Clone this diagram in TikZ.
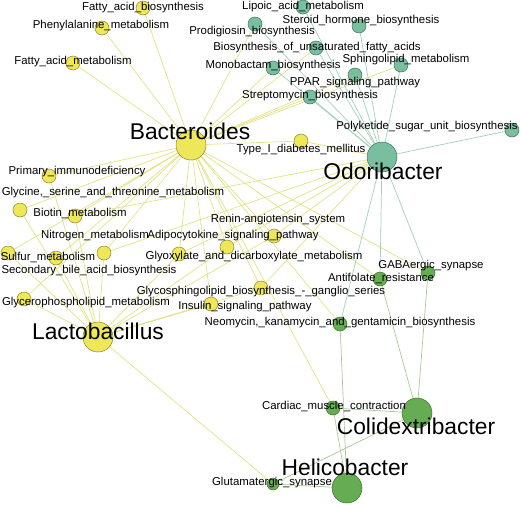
\documentclass[tikz,border=0pt]{standalone}
\usepackage{fontspec}
\setmainfont{Liberation Sans}
\usetikzlibrary{positioning}
\pgfdeclarelayer{edges}
\pgfsetlayers{edges,main}

\definecolor{bacyellow}{RGB}{238,231,90}
\definecolor{bacyellowdark}{RGB}{140,132,40}
\definecolor{odoteal}{RGB}{122,190,160}
\definecolor{odotealdark}{RGB}{60,115,90}
\definecolor{colgreen}{RGB}{102,172,82}
\definecolor{colgreendark}{RGB}{55,115,45}
\definecolor{yedgecol}{RGB}{226,226,130}
\definecolor{tedgecol}{RGB}{160,208,186}
\definecolor{gedgecol}{RGB}{165,203,145}

\tikzset{
  pnode/.style={circle, line width=0.5pt, minimum size=14pt, inner sep=0pt},
  ynode/.style={pnode, fill=bacyellow, draw=bacyellowdark},
  tnode/.style={pnode, fill=odoteal, draw=odotealdark},
  gnode/.style={pnode, fill=colgreen, draw=colgreendark},
  genus/.style={minimum size=30pt},
  plabel/.style={font=\fontsize{11.4}{12}\selectfont, inner sep=0pt},
  glabel/.style={font=\fontsize{22.8}{24}\selectfont, inner sep=0pt},
  yedge/.style={draw=yedgecol, line width=0.7pt},
  tedge/.style={draw=tedgecol, line width=0.7pt},
  gedge/.style={draw=gedgecol, line width=0.7pt}
}

\begin{document}
\begin{tikzpicture}[x=1pt, y=-1pt]
\useasboundingbox (0,0) rectangle (520,504);

% pathway nodes of Bacteroides and Lactobacillus
\node[ynode] (fab) at (143,8) {};
\node[ynode] (phe) at (102,28) {};
\node[ynode] (fam) at (73,63) {};
\node[ynode] (t1d) at (301,141) {};
\node[ynode] (pid) at (49,176) {};
\node[ynode] (gly) at (20,210) {};
\node[ynode] (bio) at (75,216) {};
\node[ynode] (nit) at (104,253) {};
\node[ynode] (sul) at (8,253) {};
\node[ynode] (sba) at (56,258) {};
\node[ynode] (gpl) at (24,299) {};
\node[ynode] (adi) at (227,247) {};
\node[ynode] (glx) at (179,254) {};
\node[ynode] (ren) at (274,236) {};
\node[ynode] (gsl) at (261,288) {};
\node[ynode] (ins) at (211,304) {};
\node[ynode, genus] (bac) at (191,145) {};
\node[ynode, genus] (lac) at (98,337) {};

% pathway nodes of Odoribacter
\node[tnode] (lip) at (303,7) {};
\node[tnode] (ste) at (359,26) {};
\node[tnode] (pro) at (255,24) {};
\node[tnode] (bua) at (316,48) {};
\node[tnode] (mon) at (273,68) {};
\node[tnode] (sph) at (401,65) {};
\node[tnode] (ppa) at (355,75) {};
\node[tnode] (str) at (310,97) {};
\node[tnode] (pks) at (512,130) {};
\node[tnode, genus] (odo) at (382,157) {};

% pathway nodes of Colidextribacter and Helicobacter
\node[gnode] (gab) at (428,273) {};
\node[gnode] (ant) at (380,279) {};
\node[gnode] (neo) at (340,324) {};
\node[gnode] (car) at (333,408) {};
\node[gnode, minimum size=12pt] (glu) at (273,484) {};
\node[gnode, genus] (col) at (417,413) {};
\node[gnode, genus] (hel) at (347,488) {};

% edges
\begin{pgfonlayer}{edges}
\foreach \p in {fab,phe,fam,t1d,pid,gly,bio,nit,sul,sba,gpl,adi,glx,ren,gsl,ins,pro,mon,str,sph,ppa,bua,gab,ant,neo,car}
  \draw[yedge] (bac) -- (\p);
\foreach \p in {pid,gly,bio,nit,sul,sba,gpl,adi,glx,ren,gsl,ins,glu}
  \draw[yedge] (lac) -- (\p);
\foreach \p in {lip,ste,pro,bua,mon,sph,ppa,str,pks,neo,ant,gab}
  \draw[tedge] (odo) -- (\p);
\foreach \p in {t1d,ren,adi,glx,gsl,nit,bio}
  \draw[yedge] (odo) -- (\p);
\foreach \p in {ant,gab,car,glu}
  \draw[gedge] (col) -- (\p);
\foreach \p in {glu,neo,car}
  \draw[gedge] (hel) -- (\p);
\end{pgfonlayer}

% labels
\node[plabel] (fab-t) at (143,8) {Fatty\_acid\_biosynthesis};
\node[plabel] (phe-t) at (101,26) {Phenylalanine\_metabolism};
\node[plabel] (fam-t) at (73,62) {Fatty\_acid\_metabolism};
\node[plabel] (t1d-t) at (301,150) {Type\_I\_diabetes\_mellitus};
\node[plabel] (pid-t) at (77,172) {Primary\_immunodeficiency};
\node[plabel] (gly-t) at (113,193) {Glycine,\_serine\_and\_threonine\_metabolism};
\node[plabel] (bio-t) at (80,213) {Biotin\_metabolism};
\node[plabel] (nit-t) at (95,236) {Nitrogen\_metabolism};
\node[plabel] (sul-t) at (48,257) {Sulfur\_metabolism};
\node[plabel] (sba-t) at (89,271) {Secondary\_bile\_acid\_biosynthesis};
\node[plabel] (gpl-t) at (86,303) {Glycerophospholipid\_metabolism};
\node[plabel] (adi-t) at (233,236) {Adipocytokine\_signaling\_pathway};
\node[plabel] (glx-t) at (254,257) {Glyoxylate\_and\_dicarboxylate\_metabolism};
\node[plabel] (ren-t) at (278,220) {Renin-angiotensin\_system};
\node[plabel] (gsl-t) at (261,292) {Glycosphingolipid\_biosynthesis\_-\_ganglio\_series};
\node[plabel] (ins-t) at (245,307) {Insulin\_signaling\_pathway};
\node[plabel] (lip-t) at (303,7) {Lipoic\_acid\_metabolism};
\node[plabel] (ste-t) at (361,21) {Steroid\_hormone\_biosynthesis};
\node[plabel] (pro-t) at (252,32) {Prodigiosin\_biosynthesis};
\node[plabel] (bua-t) at (317,48) {Biosynthesis\_of\_unsaturated\_fatty\_acids};
\node[plabel] (mon-t) at (273,66) {Monobactam\_biosynthesis};
\node[plabel] (sph-t) at (406,60) {Sphingolipid\_metabolism};
\node[plabel] (ppa-t) at (355,83) {PPAR\_signaling\_pathway};
\node[plabel] (str-t) at (310,96) {Streptomycin\_biosynthesis};
\node[plabel] (pks-t) at (427,127) {Polyketide\_sugar\_unit\_biosynthesis};
\node[plabel] (gab-t) at (431,266) {GABAergic\_synapse};
\node[plabel] (ant-t) at (381,278) {Antifolate\_resistance};
\node[plabel] (neo-t) at (340,323) {Neomycin,\_kanamycin\_and\_gentamicin\_biosynthesis};
\node[plabel] (car-t) at (334,406) {Cardiac\_muscle\_contraction};
\node[plabel] (glu-t) at (272,483) {Glutamatergic\_synapse};
\node[glabel] (bac-t) at (190,131) {Bacteroides};
\node[glabel] (lac-t) at (98,331) {Lactobacillus};
\node[glabel] (odo-t) at (383,171) {Odoribacter};
\node[glabel] (col-t) at (416,426) {Colidextribacter};
\node[glabel] (hel-t) at (345,467) {Helicobacter};
\end{tikzpicture}
\end{document}
